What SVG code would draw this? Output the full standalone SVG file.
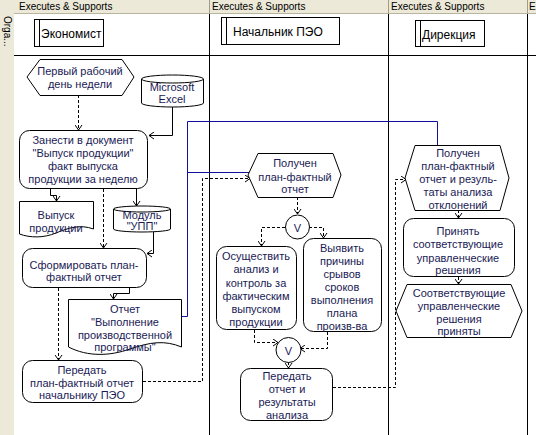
<svg xmlns="http://www.w3.org/2000/svg" width="536" height="435" viewBox="0 0 536 435">
<defs>
<style>
.bg{fill:#ECE9D8}
.hdr{font-family:"Liberation Sans",Arial,sans-serif;font-size:10px;fill:#000}
.role{font-family:"Liberation Sans",Arial,sans-serif;font-size:12px;fill:#000}
.t{font-family:"Liberation Sans",Arial,sans-serif;font-size:11px;fill:#1a1a55;text-anchor:middle}
.shape{fill:#fff;stroke:#000;stroke-width:1}
.grid{stroke:#000;stroke-width:1}
.solid{fill:none;stroke:#000;stroke-width:1;marker-end:url(#ah)}
.dash{fill:none;stroke:#000;stroke-width:1;stroke-dasharray:3,2;marker-end:url(#ah)}
.blue{fill:none;stroke:#10109a;stroke-width:1}
</style>
<marker id="ah" markerWidth="8" markerHeight="8" refX="0" refY="0" viewBox="-6 -4 7 8" orient="auto" markerUnits="userSpaceOnUse">
<path d="M-5,-3.5 L0,0 L-5,3.5" fill="none" stroke="#000" stroke-width="1"/>
</marker>
</defs>
<rect x="0" y="0" width="536" height="435" fill="#fff"/>
<g id="frame">
<rect class="bg" x="0" y="0" width="536" height="13"/>
<rect class="bg" x="0" y="0" width="14" height="435"/>
<line x1="14" y1="13.5" x2="536" y2="13.5" stroke="#b8b4a0"/>
<line x1="209.5" y1="0" x2="209.5" y2="13" stroke="#a09c88"/>
<line x1="388.5" y1="0" x2="388.5" y2="13" stroke="#a09c88"/>
<line x1="527.5" y1="0" x2="527.5" y2="13" stroke="#a09c88"/>
<line class="grid" x1="209.5" y1="14" x2="209.5" y2="435"/>
<line class="grid" x1="388.5" y1="14" x2="388.5" y2="435"/>
<line class="grid" x1="527.5" y1="14" x2="527.5" y2="435"/>
<line class="grid" x1="14" y1="55.5" x2="536" y2="55.5"/>
<text class="hdr" x="19" y="10">Executes &amp; Supports</text>
<text class="hdr" x="212" y="10">Executes &amp; Supports</text>
<text class="hdr" x="391" y="10">Executes &amp; Supports</text>
<text class="hdr" x="529" y="10">E</text>
<text class="hdr" transform="translate(4,16) rotate(90)" font-size="11">Orga...</text>
</g>
<g id="role-economist">
<rect class="shape" x="34.5" y="19.5" width="69" height="27"/>
<line class="grid" x1="39.5" y1="19.5" x2="39.5" y2="46.5"/>
<text class="role" x="41" y="38">Экономист</text>
</g>
<g id="role-peo">
<rect class="shape" x="221.5" y="17.5" width="118" height="27"/>
<line class="grid" x1="226.5" y1="17.5" x2="226.5" y2="44.5"/>
<text class="role" x="233" y="36">Начальник ПЭО</text>
</g>
<g id="role-direction">
<rect class="shape" x="415.5" y="20.5" width="69" height="26"/>
<line class="grid" x1="420.5" y1="20.5" x2="420.5" y2="46.5"/>
<text class="role" x="422" y="39">Дирекция</text>
</g>
<g id="connectors">
<path class="blue" d="M181,316.5 H187.5 V121.5 H437.5 V145"/>
<path class="blue" d="M187.5,172.5 H249"/>
<path class="solid" d="M172.5,107 V135.5 H149"/>
<path class="solid" d="M50.5,189 V195.5 H56.5 V201"/>
<path class="solid" d="M136.5,189 V206"/>
<path class="solid" d="M153.5,232 V253.5 H147"/>
<path class="solid" d="M129.5,288 V293.5 H113.5 V299"/>
<path class="dash" d="M78.5,95 V130"/>
<path class="dash" d="M103.5,189 V248"/>
<path class="dash" d="M58.5,288 V360"/>
<path class="dash" d="M143,381.5 H202.5 V178.5 H250"/>
<path class="dash" d="M297.5,197 V214"/>
<path class="dash" d="M285,227.5 H261.5 V246"/>
<path class="dash" d="M309,227.5 H323.5 V238"/>
<path class="dash" d="M254.5,330 V342.5 H278"/>
<path class="dash" d="M327.5,332 V348.5 H300"/>
<path class="dash" d="M288.5,362 V368"/>
<path class="dash" d="M333,387.5 H395.5 V179.5 H406"/>
<path class="dash" d="M458.5,210 V218"/>
<path class="dash" d="M458.5,277 V284"/>
</g>
<g id="ev-first-day">
<polygon class="shape" points="27,77 40,59.5 122,59.5 134,77 122,95.5 40,95.5"/>
<text class="t" x="80" y="75">Первый рабочий</text>
<text class="t" x="80" y="88">день недели</text>
</g>
<g id="excel">
<path class="shape" d="M141.5,79 A31,4 0 0 1 203.5,79 V103 A31,4 0 0 1 141.5,103 Z"/>
<path d="M141.5,79 A31,4 0 0 0 203.5,79" fill="none" stroke="#000"/>
<text class="t" x="172" y="91">Microsoft</text>
<text class="t" x="172" y="103">Excel</text>
</g>
<g id="fn-enter">
<rect class="shape" x="19.5" y="130.5" width="128" height="58" rx="10"/>
<text class="t" x="83" y="144">Занести в документ</text>
<text class="t" x="83" y="157">"Выпуск продукции"</text>
<text class="t" x="83" y="170">факт выпуска</text>
<text class="t" x="83" y="183">продукции за неделю</text>
</g>
<g id="doc-output">
<path class="shape" d="M19.5,201.5 H93.5 V229 C80,224 68,228 56,233 C44,238 30,238 19.5,234 Z"/>
<text class="t" x="56" y="219">Выпуск</text>
<text class="t" x="56" y="232">продукции</text>
</g>
<g id="upp">
<path class="shape" d="M113.5,209 A28.5,3 0 0 1 170.5,209 V229 A28.5,3 0 0 1 113.5,229 Z"/>
<path d="M113.5,209 A28.5,3 0 0 0 170.5,209" fill="none" stroke="#000"/>
<text class="t" x="142" y="219">Модуль</text>
<text class="t" x="142" y="230">"УПП"</text>
</g>
<g id="fn-form">
<rect class="shape" x="22.5" y="248.5" width="124" height="39" rx="10"/>
<text class="t" x="84" y="269">Сформировать план-</text>
<text class="t" x="84" y="281">фактный отчет</text>
</g>
<g id="doc-report">
<path class="shape" d="M68.5,299.5 H181.5 V347 C165,340 150,342 130,349 C110,356 88,357 68.5,347 Z"/>
<text class="t" x="125" y="313">Отчет</text>
<text class="t" x="125" y="326">"Выполнение</text>
<text class="t" x="125" y="339">производственной</text>
<text class="t" x="125" y="351">программы"</text>
</g>
<g id="fn-send">
<rect class="shape" x="22.5" y="360.5" width="120" height="42" rx="10"/>
<text class="t" x="82" y="374">Передать</text>
<text class="t" x="82" y="387">план-фактный отчет</text>
<text class="t" x="82" y="399">начальнику ПЭО</text>
</g>
<g id="ev-received">
<polygon class="shape" points="248,175 258,153.5 333,153.5 341,175 333,197.5 258,197.5"/>
<text class="t" x="295" y="167">Получен</text>
<text class="t" x="295" y="181">план-фактный</text>
<text class="t" x="295" y="193">отчет</text>
</g>
<g id="or1">
<circle class="shape" cx="297.5" cy="227" r="12"/>
<text class="t" x="297.5" y="232" font-size="12">V</text>
</g>
<g id="fn-analyze">
<rect class="shape" x="216.5" y="246.5" width="80" height="83" rx="10"/>
<text class="t" x="256" y="260">Осуществить</text>
<text class="t" x="256" y="273">анализ и</text>
<text class="t" x="256" y="287">контроль за</text>
<text class="t" x="256" y="300">фактическим</text>
<text class="t" x="256" y="313">выпуском</text>
<text class="t" x="256" y="326">продукции</text>
</g>
<g id="fn-causes">
<rect class="shape" x="303.5" y="238.5" width="78" height="93" rx="10"/>
<text class="t" x="342" y="252">Выявить</text>
<text class="t" x="342" y="265">причины</text>
<text class="t" x="342" y="278">срывов</text>
<text class="t" x="342" y="291">сроков</text>
<text class="t" x="342" y="304">выполнения</text>
<text class="t" x="342" y="317">плана</text>
<text class="t" x="342" y="330">произв-ва</text>
</g>
<g id="or2">
<circle class="shape" cx="288.5" cy="350" r="12.5"/>
<text class="t" x="288.5" y="355" font-size="12">V</text>
</g>
<g id="fn-send-results">
<rect class="shape" x="240.5" y="368.5" width="92" height="52" rx="10"/>
<text class="t" x="287" y="380">Передать</text>
<text class="t" x="287" y="393">отчет и</text>
<text class="t" x="287" y="406">результаты</text>
<text class="t" x="287" y="419">анализа</text>
</g>
<g id="ev-dir-received">
<polygon class="shape" points="405,178 415,145.5 500,145.5 509,178 500,210.5 415,210.5"/>
<text class="t" x="458" y="157">Получен</text>
<text class="t" x="458" y="170">план-фактный</text>
<text class="t" x="458" y="183">отчет и резуль-</text>
<text class="t" x="458" y="196">таты анализа</text>
<text class="t" x="458" y="209">отклонений</text>
</g>
<g id="fn-decide">
<rect class="shape" x="403.5" y="218.5" width="111" height="58" rx="10"/>
<text class="t" x="458" y="235">Принять</text>
<text class="t" x="458" y="248">соответствующие</text>
<text class="t" x="458" y="262">управленческие</text>
<text class="t" x="458" y="274">решения</text>
</g>
<g id="ev-decided">
<polygon class="shape" points="396,311 407,284.5 511,284.5 522,311 511,337.5 407,337.5"/>
<text class="t" x="459" y="297">Соответствующие</text>
<text class="t" x="459" y="310">управленческие</text>
<text class="t" x="459" y="323">решения</text>
<text class="t" x="459" y="335">приняты</text>
</g>
</svg>
